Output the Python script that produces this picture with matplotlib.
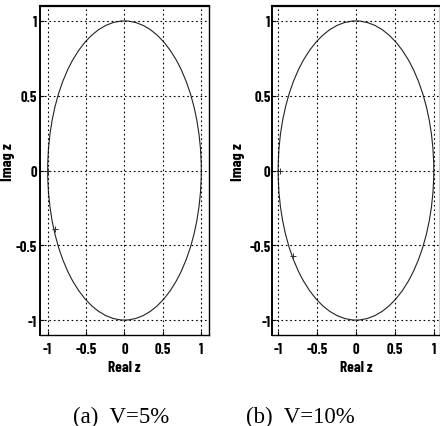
import matplotlib
matplotlib.use("Agg")
import matplotlib.pyplot as plt
from matplotlib.patches import Circle

# tick values and labels
ticks = [-1, -0.5, 0, 0.5, 1]
tick_labels = ['-1', '-0.5', '0', '0.5', '1']

# root markers
a_pts_x = [-0.99, -0.9]
a_pts_y = [0.0, -0.39]
b_pts_x = [-0.98, -0.81]
b_pts_y = [0.0, -0.57]

captions = ['(a)  V=5%', '(b)  V=10%']

fig = plt.figure(figsize=(4.4, 4.27), dpi=100)
ax1 = fig.add_axes([0.0909, 0.2131, 0.384, 0.7705])
ax2 = fig.add_axes([0.618, 0.2131, 0.382, 0.7705])

narrow = ['Barlow Condensed', 'DejaVu Sans']
tick_font = dict(family=narrow, weight='bold', size=10.5)

def setup(ax, xlim, px, py, ylab_x, ypad):
    ax.add_patch(Circle((0, 0), 1, fill=False, ec='#222222', lw=0.8))
    ax.plot(px, py, '+', color='#333333', ms=4, mew=0.7)
    ax.set_xlim(-xlim, xlim)
    ax.set_ylim(-1.1, 1.1)
    ax.set_xticks(ticks)
    ax.set_yticks(ticks)
    ax.set_xticklabels(tick_labels, **tick_font)
    ax.set_yticklabels(tick_labels, **tick_font)
    ax.tick_params(direction='in', length=3, width=0.8)
    ax.tick_params(axis='x', pad=5)
    ax.tick_params(axis='y', pad=ypad)
    ax.grid(True, color='black', linestyle=(0, (1.5, 2.5)), linewidth=0.8)
    for s in ax.spines.values():
        s.set_linewidth(1.0)
    ax.spines['top'].set_linewidth(1.6)
    ax.spines['left'].set_linewidth(1.4)
    ax.set_xlabel('Real z', family=narrow, weight='bold', size=11)
    ax.set_ylabel('Imag z', family=narrow, weight='bold', size=11.5)
    ax.xaxis.set_label_coords(0.5, -0.075)
    ax.yaxis.set_label_coords(ylab_x, 0.53)

setup(ax1, 1.1, a_pts_x, a_pts_y, -0.15, 2)
setup(ax2, 1.08, b_pts_x, b_pts_y, -0.163, 1)

fig.text(121 / 440, 1 - 423 / 427, captions[0], family='Liberation Serif', size=16.5, ha='center')
fig.text(300 / 440, 1 - 423 / 427, captions[1], family='Liberation Serif', size=16.5, ha='center')

fig.savefig('out.png', dpi=100)
